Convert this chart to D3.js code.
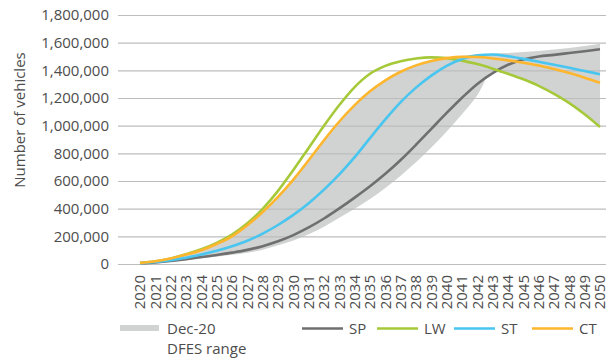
<!DOCTYPE html>
<html>
<head>
<meta charset="utf-8">
<script src="https://cdn.jsdelivr.net/npm/d3@7"></script>
<style>
  body { margin: 0; background: #fff; }
  text { font-family: "Open Sans", sans-serif; fill: #4d4d4d; }
</style>
</head>
<body>
<svg width="606" height="359"></svg>
<script>
// data
var years = d3.range(2020, 2051);
var sp = [5000, 12000, 22000, 35000, 50000, 65000, 82000, 102000, 129000, 164000, 209000, 264000, 329000, 402000, 480000, 562000, 652000, 752000, 862000, 977000, 1092000, 1202000, 1302000, 1380000, 1440000, 1478000, 1500000, 1512000, 1525000, 1538000, 1552000];
var lw = [8000, 20000, 40000, 70000, 106000, 152000, 212000, 294000, 399000, 529000, 679000, 839000, 999000, 1149000, 1279000, 1375000, 1432000, 1466000, 1486000, 1494000, 1488000, 1470000, 1445000, 1412000, 1375000, 1335000, 1288000, 1230000, 1163000, 1082000, 990000];
var st = [6000, 14000, 27000, 45000, 68000, 95000, 128000, 168000, 220000, 282000, 355000, 440000, 538000, 648000, 772000, 910000, 1045000, 1170000, 1275000, 1362000, 1432000, 1482000, 1508000, 1514000, 1502000, 1483000, 1462000, 1440000, 1418000, 1395000, 1372000];
var ct = [8000, 20000, 40000, 68000, 100000, 145000, 200000, 280000, 375000, 485000, 610000, 750000, 895000, 1030000, 1148000, 1248000, 1328000, 1390000, 1436000, 1468000, 1488000, 1497000, 1496000, 1486000, 1472000, 1455000, 1435000, 1410000, 1380000, 1347000, 1310000];
var bandLow = [4000, 10000, 18000, 28000, 40000, 52000, 66000, 82000, 103000, 135000, 170000, 215000, 270000, 335000, 400000, 470000, 550000, 638000, 735000, 842000, 958000, 1082000, 1220000, 1390000, 1372000, 1332000, 1285000, 1227000, 1160000, 1079000, 987000];
var bandHigh = [8000, 20000, 40000, 68000, 100000, 145000, 200000, 280000, 375000, 485000, 610000, 750000, 895000, 1030000, 1148000, 1248000, 1328000, 1390000, 1436000, 1468000, 1492000, 1506000, 1514000, 1520000, 1525000, 1532000, 1540000, 1550000, 1562000, 1576000, 1592000];
var yTicks = [0, 200000, 400000, 600000, 800000, 1000000, 1200000, 1400000, 1600000, 1800000];

var series = [
  {name: "SP", values: sp, color: "#6f6f70"},
  {name: "LW", values: lw, color: "#a6c93a"},
  {name: "ST", values: st, color: "#48c6ef"},
  {name: "CT", values: ct, color: "#fdb62d"}
];

var svg = d3.select("svg");
var left = 118, right = 606;

var x = d3.scalePoint().domain(years).range([140, 600]);
var y = d3.scaleLinear().domain([0, 1800000]).range([264, 15]);

// grey range band
var area = d3.area()
    .x((d, i) => x(years[i]))
    .y0((d, i) => y(bandLow[i]))
    .y1((d, i) => y(bandHigh[i]))
    .curve(d3.curveMonotoneX);

svg.append("path")
    .datum(years)
    .attr("d", area)
    .attr("fill", "#d1d2d2");

// gridlines + y labels
var yAxis = svg.append("g")
    .attr("transform", `translate(${left},0)`)
    .call(d3.axisLeft(y).tickValues(yTicks).tickSize(-(right - left)).tickPadding(9)
      .tickFormat(d3.format(",")));
yAxis.select(".domain").remove();
yAxis.selectAll("line").attr("stroke", "#bdbdbd").attr("stroke-width", 1.2);
yAxis.selectAll("text").attr("font-size", 15).attr("fill", "#4d4d4d");

// x labels (rotated)
svg.append("g")
  .selectAll("text")
  .data(years)
  .enter().append("text")
    .attr("transform", d => `translate(${x(d)},275) rotate(-90)`)
    .attr("text-anchor", "end")
    .attr("dy", "0.35em")
    .attr("font-size", 15)
    .text(d => d);

// scenario lines
var line = d3.line()
    .x((d, i) => x(years[i]))
    .y(d => y(d))
    .curve(d3.curveMonotoneX);

svg.append("g")
  .selectAll("path")
  .data(series)
  .enter().append("path")
    .attr("d", d => line(d.values))
    .attr("fill", "none")
    .attr("stroke", d => d.color)
    .attr("stroke-width", 2.6);

// y axis title
svg.append("text")
    .attr("transform", "translate(25,120) rotate(-90)")
    .attr("text-anchor", "middle")
    .attr("font-size", 15)
    .text("Number of vehicles");

// legend
var lg = svg.append("g");
lg.append("rect")
    .attr("x", 120).attr("y", 325).attr("width", 39).attr("height", 6)
    .attr("fill", "#d1d2d2");
lg.append("text").attr("x", 167).attr("y", 334).attr("font-size", 15).text("Dec-20");
lg.append("text").attr("x", 167).attr("y", 354).attr("font-size", 15).text("DFES range");

var legX = [302, 377, 454, 532];
lg.selectAll(".item")
  .data(series)
  .enter().append("g")
    .attr("transform", (d, i) => `translate(${legX[i]},0)`)
    .each(function(d) {
      var g = d3.select(this);
      g.append("line")
        .attr("x1", 0).attr("x2", 41).attr("y1", 328.5).attr("y2", 328.5)
        .attr("stroke", d.color).attr("stroke-width", 2.6);
      g.append("text").attr("x", 47).attr("y", 334).attr("font-size", 15).text(d.name);
    });
</script>
</body>
</html>
